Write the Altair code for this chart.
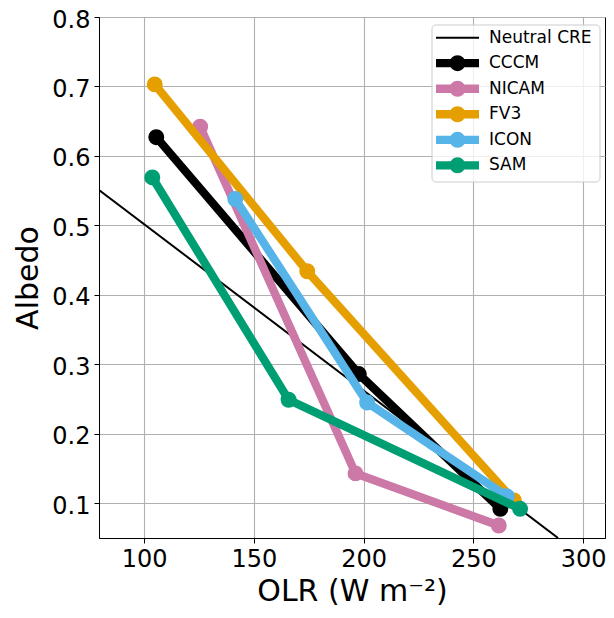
import altair as alt
import pandas as pd

# ---- data ----
models = ["CCCM", "NICAM", "FV3", "ICON", "SAM"]
colors = ["#000000", "#CC79A7", "#E69F00", "#56B4E9", "#009E73"]

olr = {
    "CCCM":  [105.5, 197.8, 262.3],
    "NICAM": [125.5, 196.3, 261.6],
    "FV3":   [104.8, 174.3, 268.5],
    "ICON":  [141.5, 201.6, 265.3],
    "SAM":   [103.7, 165.8, 271.3],
}
albedo = {
    "CCCM":  [0.627, 0.286, 0.092],
    "NICAM": [0.642, 0.143, 0.068],
    "FV3":   [0.703, 0.434, 0.104],
    "ICON":  [0.538, 0.245, 0.110],
    "SAM":   [0.569, 0.249, 0.092],
}

neutral_label = "Neutral CRE"
neutral_olr = [79.4, 288.6]
neutral_albedo = [0.551, 0.05]

x_ticks = [100, 150, 200, 250, 300]
y_ticks = [0.1, 0.2, 0.3, 0.4, 0.5, 0.6, 0.7, 0.8]
x_domain = [79.4, 310]
y_domain = [0.05, 0.8]

FONT = "DejaVu Sans"

# ---- build tables ----
rows = []
for m in models:
    for o, a in zip(olr[m], albedo[m]):
        rows.append({"model": m, "OLR": o, "Albedo": a})
df = pd.DataFrame(rows)
neutral_df = pd.DataFrame({"model": neutral_label, "OLR": neutral_olr, "Albedo": neutral_albedo})

legend_domain = [neutral_label] + models
legend_range = ["#000000"] + colors
legend_df = pd.DataFrame({"model": legend_domain})

color = alt.Color("model:N", scale=alt.Scale(domain=legend_domain, range=legend_range), legend=None)

x_enc = alt.X("OLR:Q", scale=alt.Scale(domain=x_domain, nice=False, zero=False),
              axis=alt.Axis(values=x_ticks, title="OLR (W m⁻²)", format="d", titlePadding=5))
y_enc = alt.Y("Albedo:Q", scale=alt.Scale(domain=y_domain, nice=False, zero=False),
              axis=alt.Axis(values=y_ticks, title="Albedo", format=".1f", titlePadding=8, labelOffset=3))

data_layers = [
    alt.Chart(neutral_df).mark_line(strokeWidth=2, clip=True).encode(x=x_enc, y=y_enc, color=color)
]
for m in models:
    base = alt.Chart(df[df["model"] == m])
    data_layers.append(base.mark_line(strokeWidth=8.3, clip=True).encode(x=x_enc, y=y_enc, color=color))
    data_layers.append(base.mark_circle(size=254, opacity=1, clip=True).encode(x=x_enc, y=y_enc, color=color))
main = alt.layer(*data_layers)

# ---- legend (drawn as a small layer in the upper right) ----
ly = alt.Y("model:N", scale=alt.Scale(type="point", domain=legend_domain, range=[20.7, 148.3], padding=0),
           axis=None)
leg_base = alt.Chart(legend_df)
leg_box = alt.Chart(legend_df.head(1)).mark_rect(
    fill="white", fillOpacity=0.8, stroke="#cccccc", strokeWidth=1, cornerRadius=4
).encode(x=alt.value(333), x2=alt.value(501), y=alt.value(8), y2=alt.value(165))
leg_thin = leg_base.transform_filter(alt.datum.model == neutral_label).mark_rule(strokeWidth=2).encode(
    x=alt.value(337), x2=alt.value(380), y=ly, color=color)
leg_thick = leg_base.transform_filter(alt.datum.model != neutral_label).mark_rule(strokeWidth=8.3).encode(
    x=alt.value(337), x2=alt.value(380), y=ly, color=color)
leg_dot = leg_base.transform_filter(alt.datum.model != neutral_label).mark_circle(size=254, opacity=1).encode(
    x=alt.value(358.5), y=ly, color=color)
leg_text = leg_base.mark_text(align="left", baseline="middle", font=FONT, fontSize=17, color="black").encode(
    x=alt.value(390), y=ly, text="model:N")
legend_layer = alt.layer(leg_box, leg_thin, leg_thick, leg_dot, leg_text)

chart = alt.layer(main, legend_layer).resolve_scale(y="independent").properties(
    width=506,
    height=521,
    padding={"left": 91, "top": 9, "right": 1, "bottom": 68},
    autosize="none",
).configure_view(
    stroke="black", strokeWidth=1
).configure_axis(
    domainColor="black",
    domainWidth=1,
    tickColor="black",
    tickSize=5,
    tickWidth=1,
    labelFont=FONT,
    labelFontSize=24,
    labelColor="black",
    labelPadding=4,
    titleFont=FONT,
    titleFontSize=30,
    titleFontWeight="normal",
    titleColor="black",
    gridColor="#b0b0b0",
    gridWidth=1.1,
    labelFlush=False,
)

chart.save("out.html", embed_options={"renderer": "svg", "actions": False})
